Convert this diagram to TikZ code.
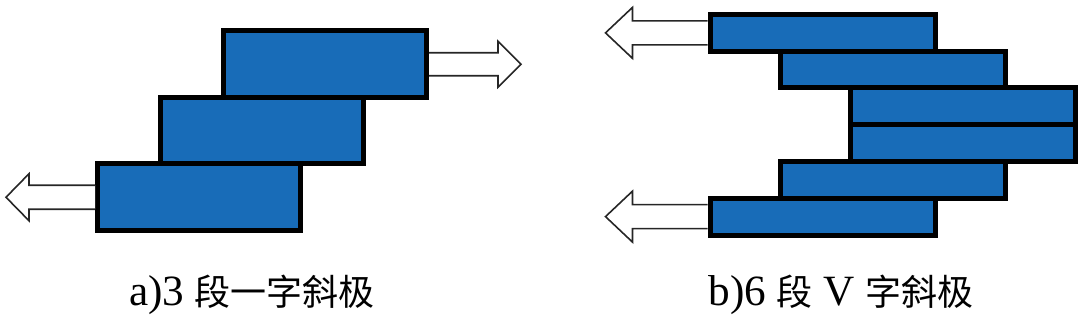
\documentclass[tikz,border=0pt]{standalone}
\usepackage{fontspec}
\setmainfont{Liberation Serif}[Scale=1.2]
\newfontfamily\cjk{Noto Sans CJK SC}
\usepackage{tikz}
\usetikzlibrary{calc}
\definecolor{plateblue}{RGB}{24,108,184}
\tikzset{
  plate/.style={draw=black, fill=plateblue, line width=2.5pt, rectangle, inner sep=0pt},
  hollow/.style={draw=black!85, fill=white, line width=0.8pt, line join=miter},
  caption/.style={font=\fontsize{18}{21}\selectfont, inner sep=0pt}
}

\begin{document}
\begin{tikzpicture}[x=0.5pt, y=-0.5pt]
  \useasboundingbox (0,0) rectangle (1080,320);
  % a) three plates in a line
  \foreach \i/\px/\py in {1/199/197.25, 2/262/130.75, 3/325/64.25}
    \node[plate, minimum width=101.5pt, minimum height=33.25pt] (a\i) at (\px,\py) {};
  \draw[hollow] ($(a3.east)+(0,-11.5)$) -- ++(69,0) -- ++(0,-11.5) -- ++(23,23)
    -- ++(-23,23) -- ++(0,-11.5) -- ++(-69,0);
  \draw[hollow] ($(a1.west)+(0,-12)$) -- ++(-66,0) -- ++(0,-11.5) -- ++(-23,23.5)
    -- ++(23,23.5) -- ++(0,-11.5) -- ++(66,0);
  % b) six plates in a V
  \foreach \i/\px/\py in {1/822.5/32.875, 2/892.5/69.625, 3/962.5/106.375,
                          4/962.5/143.125, 5/892.5/179.875, 6/822.5/216.625}
    \node[plate, minimum width=112.5pt, minimum height=18.375pt] (b\i) at (\px,\py) {};
  \draw[hollow] ($(b1.west)+(0,-12)$) -- ++(-75,0) -- ++(0,-13.5) -- ++(-27,25.5)
    -- ++(27,25.5) -- ++(0,-13.5) -- ++(75,0);
  \draw[hollow] ($(b6.west)+(0,-12)$) -- ++(-75,0) -- ++(0,-13.5) -- ++(-27,25.5)
    -- ++(27,25.5) -- ++(0,-13.5) -- ++(75,0);
  % captions
  \node[caption] (capa) at (252,295) {a)3 {\cjk 段一字斜极}};
  \node[caption] (capb) at (841,295) {b)6 {\cjk 段} V {\cjk 字斜极}};
\end{tikzpicture}
\end{document}
